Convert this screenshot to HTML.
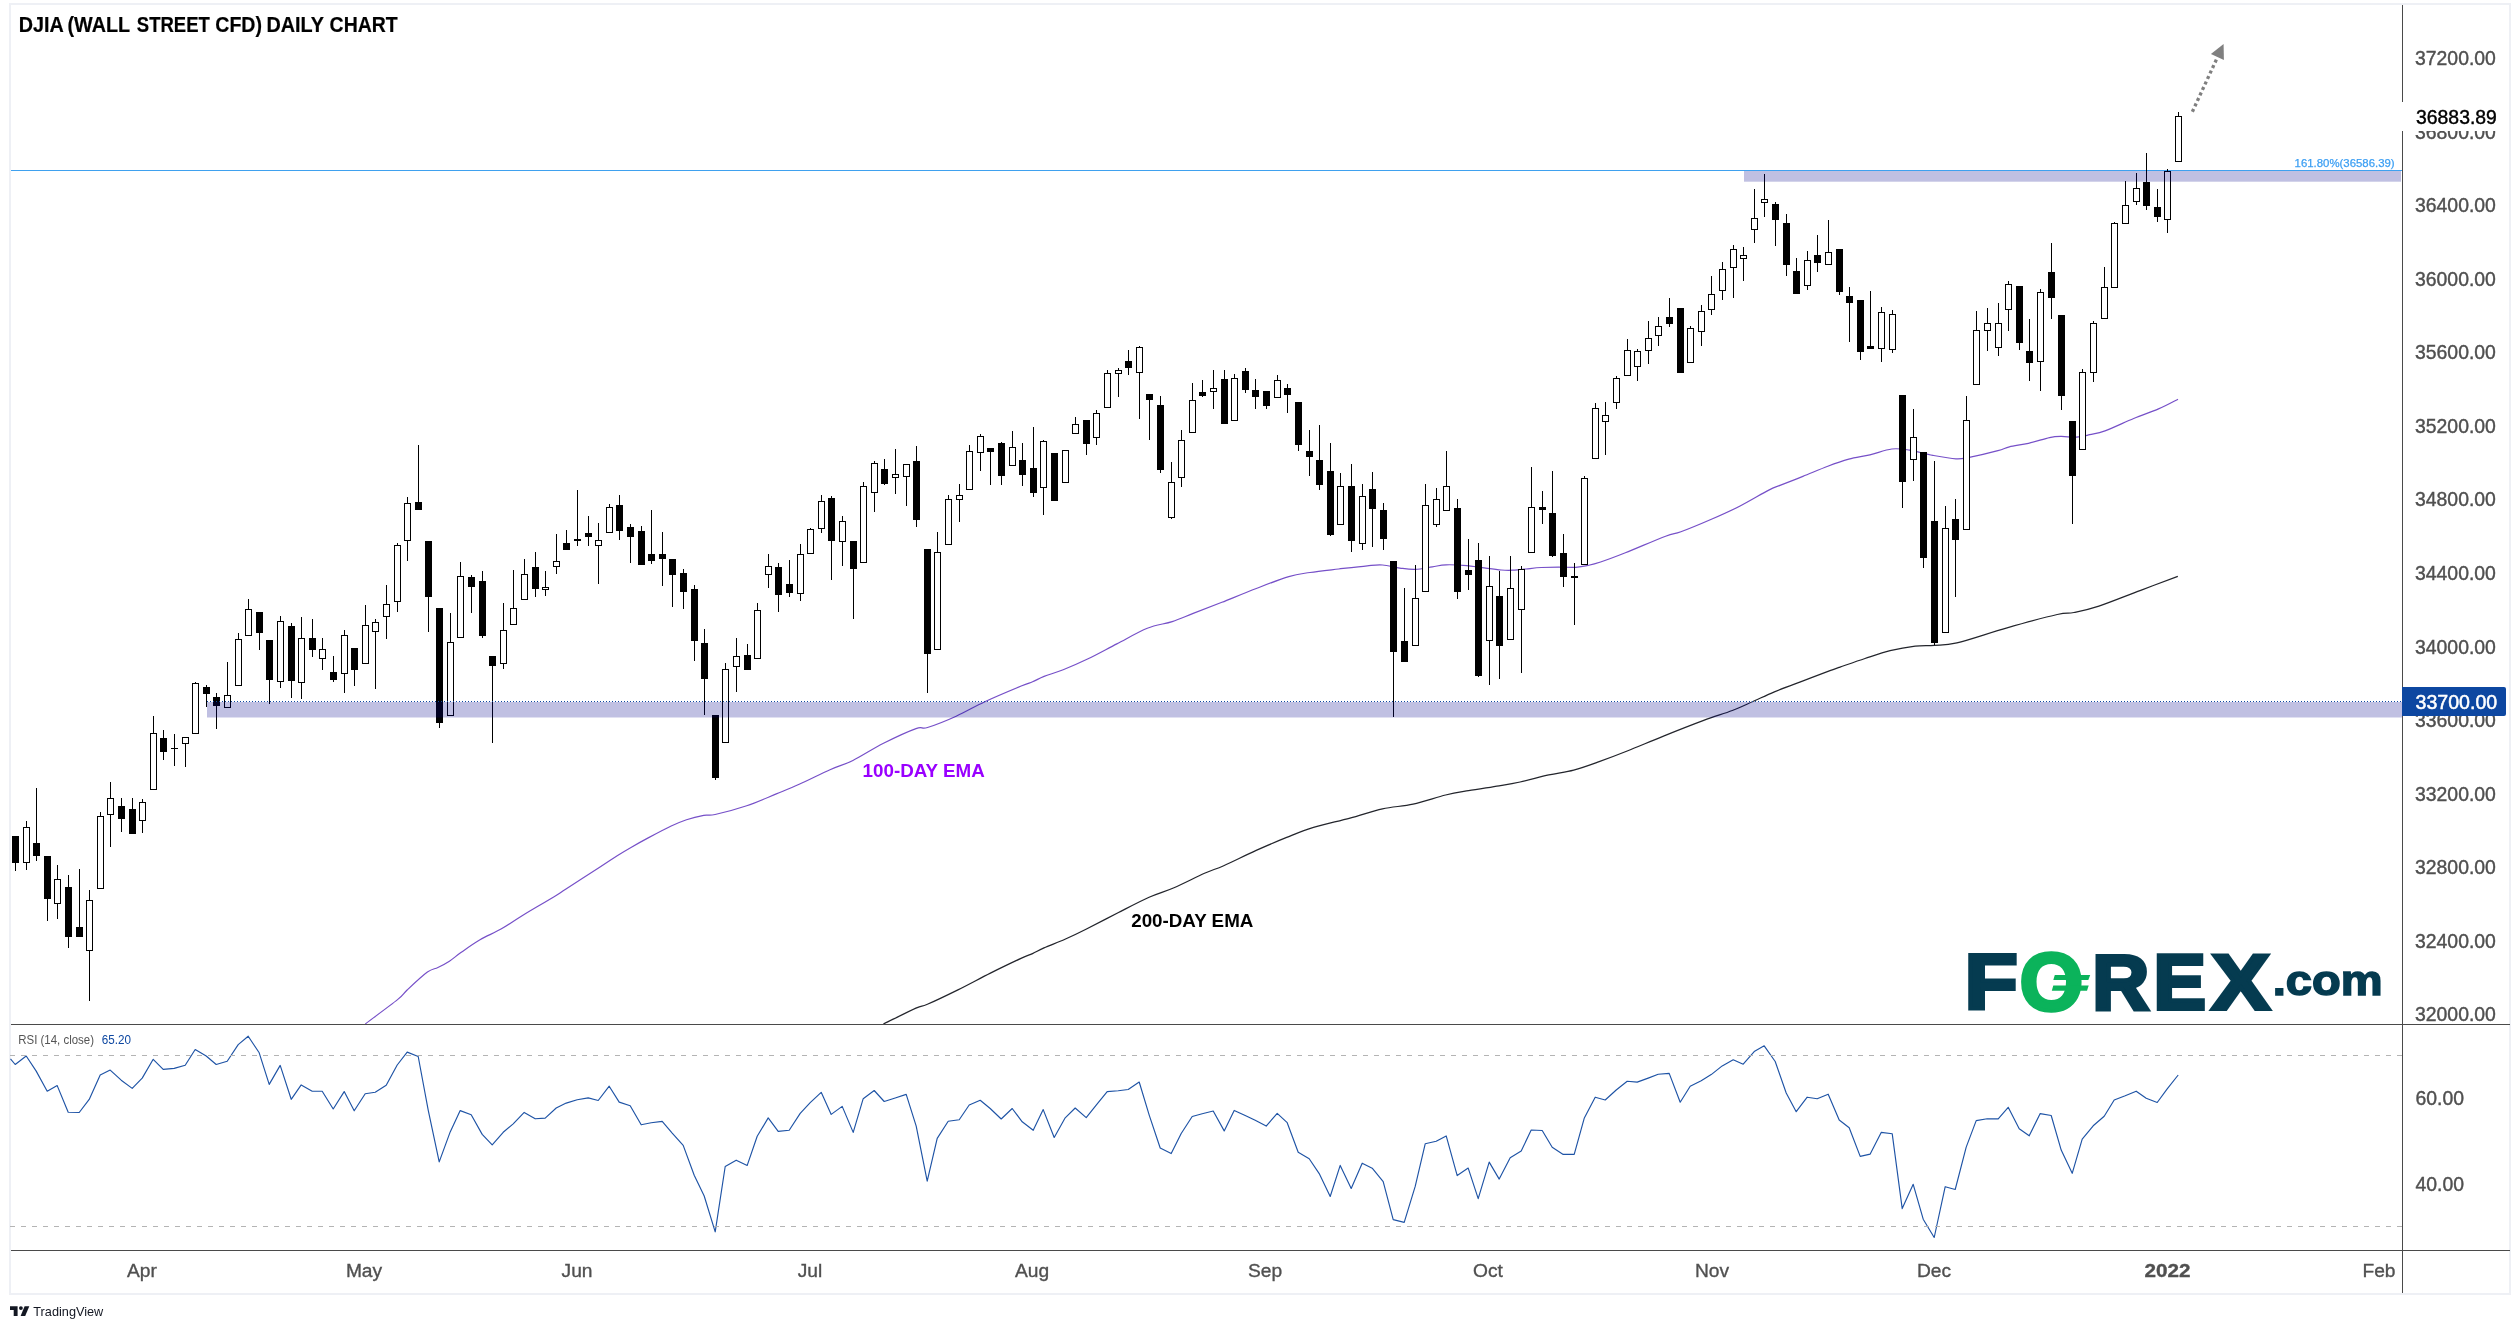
<!DOCTYPE html><html><head><meta charset="utf-8"><title>DJIA Daily Chart</title><style>html,body{margin:0;padding:0;background:#fff;overflow:hidden}svg{display:block;will-change:transform}</style></head><body><svg width="2520" height="1329" viewBox="0 0 2520 1329">
<rect width="2520" height="1329" fill="#fff"/>
<rect x="10" y="4" width="2500" height="1290" fill="none" stroke="#EEF0F5" stroke-width="2"/>
<clipPath id="mainpane"><rect x="11" y="5" width="2391" height="1019"/></clipPath>
<g clip-path="url(#mainpane)">
<path d="M365.3 1023.9C370.7 1019.8 390.8 1005.1 397.8 999.4C404.8 993.7 402.5 994.3 407.4 989.8C412.3 985.2 422.3 975.8 427.4 972.1C432.5 968.4 434.2 969.3 437.9 967.5C441.6 965.7 445.6 963.7 449.4 961.2C453.2 958.7 455.8 956.2 460.9 952.6C466.0 949.0 473.3 943.7 480.0 939.8C486.7 935.9 494.0 933.1 501.0 929.1C508.0 925.1 512.9 921.4 522.1 915.7C531.4 910.1 549.2 899.7 556.5 895.2C563.8 890.7 559.0 893.4 566.0 888.9C573.0 884.4 589.9 873.7 598.5 868.1C607.1 862.5 612.2 859.0 617.6 855.5C623.0 852.0 625.9 850.3 631.0 847.4C636.1 844.5 641.5 841.5 648.2 837.9C654.9 834.3 664.8 829.0 671.2 826.0C677.6 823.0 681.1 821.5 686.5 819.7C691.9 817.9 698.9 816.2 703.7 815.3C708.5 814.4 707.9 816.1 715.1 814.5C722.3 812.9 736.5 809.1 746.7 805.7C756.9 802.3 767.5 797.5 776.3 793.9C785.0 790.3 790.2 788.3 799.2 784.3C808.2 780.3 821.0 773.7 830.0 769.7C839.0 765.7 844.0 764.9 852.9 760.5C861.8 756.1 873.0 748.6 883.5 743.3C894.0 738.0 908.7 731.2 916.0 728.6C923.3 726.0 920.8 729.6 927.5 727.5C934.2 725.4 946.7 720.5 956.2 716.2C965.8 711.9 974.0 706.7 984.8 701.7C995.6 696.7 1013.2 689.3 1021.2 686.0C1029.2 682.7 1028.8 683.4 1032.6 681.8C1036.4 680.2 1039.0 678.4 1044.1 676.4C1049.2 674.4 1055.9 672.6 1063.2 669.7C1070.5 666.8 1079.2 663.1 1088.1 658.8C1097.0 654.5 1106.9 649.0 1116.8 643.9C1126.7 638.8 1138.1 632.0 1147.3 628.3C1156.5 624.6 1164.5 624.1 1172.2 621.6C1179.9 619.1 1184.9 616.6 1193.2 613.4C1201.5 610.2 1211.4 606.4 1221.9 602.3C1232.4 598.1 1245.2 592.8 1256.3 588.5C1267.4 584.2 1279.8 579.3 1288.8 576.6C1297.8 573.9 1301.7 573.8 1310.0 572.5C1318.3 571.2 1329.2 570.1 1338.7 569.0C1348.2 567.9 1360.0 566.5 1367.3 565.8C1374.6 565.1 1377.2 564.6 1382.6 565.0C1388.0 565.4 1394.5 567.4 1399.9 568.1C1405.3 568.8 1409.7 569.6 1415.1 569.4C1420.5 569.2 1427.1 567.7 1432.3 566.9C1437.5 566.1 1440.3 565.0 1446.1 564.8C1451.8 564.6 1460.8 565.1 1466.8 565.6C1472.8 566.1 1476.3 567.0 1482.0 567.7C1487.7 568.4 1496.1 569.6 1501.2 570.0C1506.3 570.4 1508.5 570.4 1512.6 570.2C1516.7 570.0 1521.2 569.5 1526.0 569.0C1530.8 568.5 1535.9 567.8 1541.3 567.5C1546.7 567.2 1552.8 567.1 1558.5 567.1C1564.2 567.1 1570.9 567.5 1575.7 567.3C1580.5 567.0 1583.1 566.5 1587.2 565.6C1591.3 564.7 1594.2 564.1 1600.6 562.0C1607.0 559.9 1614.6 557.1 1625.4 552.8C1636.2 548.5 1656.3 539.7 1665.6 536.2C1674.8 532.7 1673.3 534.6 1680.9 531.8C1688.5 529.0 1701.5 523.6 1711.4 519.3C1721.3 515.0 1730.5 510.9 1740.1 506.0C1749.7 501.1 1762.1 493.5 1768.8 490.1C1775.5 486.7 1774.3 487.7 1780.0 485.4C1785.7 483.1 1794.9 479.6 1802.9 476.4C1810.9 473.2 1820.2 469.2 1827.8 466.3C1835.4 463.4 1841.8 461.1 1848.8 459.2C1855.8 457.3 1862.7 456.5 1869.9 454.8C1877.1 453.1 1885.1 449.8 1891.8 449.0C1898.5 448.2 1903.2 449.1 1910.0 450.2C1916.8 451.3 1925.2 454.0 1932.9 455.4C1940.6 456.8 1949.8 458.5 1955.9 458.8C1962.0 459.1 1962.3 458.7 1969.3 457.3C1976.3 455.9 1991.2 452.4 1997.9 450.6C2004.6 448.9 2004.3 448.0 2009.4 446.8C2014.5 445.6 2021.8 444.8 2028.5 443.3C2035.2 441.8 2044.1 438.8 2049.5 437.6C2054.9 436.5 2056.5 436.5 2061.0 436.4C2065.5 436.3 2071.5 437.5 2076.3 437.2C2081.1 436.9 2084.9 435.8 2089.7 434.7C2094.5 433.6 2097.7 433.6 2105.0 430.9C2112.3 428.2 2124.8 422.2 2133.7 418.5C2142.6 414.8 2151.1 412.1 2158.5 408.9C2165.9 405.7 2174.8 400.8 2178.0 399.2" fill="none" stroke="#7650C8" stroke-width="1.2" stroke-linejoin="round"/>
<path d="M883.4 1024.0C888.8 1021.4 908.6 1011.4 915.9 1008.1C923.2 1004.8 920.4 1007.3 927.4 1004.3C934.4 1001.3 947.4 995.1 957.9 989.9C968.4 984.7 979.9 978.4 990.4 973.1C1000.9 967.9 1014.0 961.6 1021.0 958.4C1028.0 955.1 1028.7 955.4 1032.5 953.6C1036.3 951.9 1038.6 950.3 1044.0 947.9C1049.4 945.5 1058.0 942.4 1065.0 939.3C1072.0 936.2 1077.1 933.8 1086.0 929.3C1094.9 924.8 1108.0 917.9 1118.5 912.5C1129.0 907.1 1139.8 901.3 1149.1 897.2C1158.3 893.1 1164.8 891.7 1174.0 887.7C1183.2 883.7 1196.2 877.0 1204.5 873.3C1212.8 869.6 1215.1 869.5 1223.7 865.7C1232.3 861.9 1245.7 855.1 1256.2 850.4C1266.7 845.7 1277.2 841.2 1286.7 837.4C1296.2 833.6 1303.0 830.6 1313.5 827.4C1324.0 824.2 1338.5 821.2 1350.0 818.1C1361.5 815.0 1372.0 811.1 1382.5 808.8C1393.0 806.5 1402.6 806.5 1413.1 804.2C1423.6 801.9 1436.4 797.3 1445.6 795.0C1454.8 792.7 1459.6 792.1 1468.5 790.6C1477.4 789.1 1490.5 787.2 1499.1 785.8C1507.7 784.4 1511.8 783.8 1520.1 782.0C1528.4 780.2 1539.9 776.9 1548.8 774.9C1557.7 772.9 1565.4 772.3 1573.7 770.1C1582.0 767.9 1589.6 765.1 1598.5 761.9C1607.4 758.7 1616.4 755.3 1627.2 751.0C1638.0 746.7 1650.8 741.2 1663.5 736.1C1676.2 731.0 1692.2 724.7 1703.7 720.4C1715.2 716.1 1724.0 713.7 1732.3 710.5C1740.6 707.3 1746.4 704.4 1753.4 701.3C1760.4 698.2 1766.1 695.2 1774.4 691.8C1782.7 688.4 1793.8 684.4 1803.1 680.9C1812.4 677.4 1823.8 673.0 1830.0 670.7C1836.2 668.4 1834.2 669.1 1840.0 667.1C1845.8 665.1 1856.7 661.2 1865.0 658.5C1873.3 655.8 1881.7 652.8 1890.1 650.7C1898.5 648.7 1907.8 647.1 1915.2 646.2C1922.6 645.3 1927.5 646.0 1934.4 645.4C1941.4 644.8 1944.8 645.8 1956.9 642.9C1969.0 640.0 1990.4 632.5 2007.1 627.8C2023.8 623.1 2046.1 617.0 2057.2 614.5C2068.3 612.0 2066.9 613.9 2073.9 612.5C2080.9 611.1 2087.8 609.8 2098.9 606.1C2110.0 602.4 2127.5 595.2 2140.7 590.3C2153.8 585.3 2171.6 578.7 2177.8 576.4" fill="none" stroke="#23252c" stroke-width="1.25" stroke-linejoin="round"/>
</g>
<rect x="11" y="170" width="2391" height="1" fill="#3FA1EF"/>
<g shape-rendering="crispEdges">
<path d="M15 863h1V871h-1zM26 821h1V827h-1zM26 863h1V870h-1zM36 788h1V843h-1zM36 856h1V861h-1zM47 899h1V921h-1zM57 865h1V879h-1zM57 904h1V919h-1zM68 875h1V887h-1zM68 937h1V948h-1zM79 869h1V927h-1zM89 890h1V900h-1zM89 951h1V1001h-1zM100 812h1V816h-1zM110 782h1V798h-1zM110 815h1V847h-1zM121 798h1V806h-1zM121 819h1V832h-1zM132 798h1V809h-1zM142 799h1V802h-1zM142 821h1V833h-1zM153 716h1V733h-1zM163 730h1V738h-1zM163 752h1V760h-1zM174 734h1V748h-1zM174 749h1V766h-1zM185 744h1V767h-1zM195 682h1V683h-1zM206 685h1V687h-1zM206 694h1V707h-1zM216 693h1V697h-1zM216 706h1V729h-1zM227 662h1V695h-1zM238 633h1V639h-1zM248 599h1V609h-1zM259 633h1V650h-1zM269 680h1V704h-1zM280 616h1V621h-1zM280 682h1V688h-1zM291 623h1V626h-1zM291 681h1V698h-1zM301 617h1V638h-1zM301 683h1V699h-1zM312 619h1V638h-1zM312 650h1V657h-1zM322 638h1V649h-1zM322 659h1V670h-1zM333 656h1V672h-1zM333 680h1V682h-1zM344 630h1V635h-1zM344 674h1V693h-1zM354 670h1V686h-1zM365 605h1V625h-1zM375 619h1V622h-1zM375 632h1V689h-1zM386 585h1V604h-1zM386 617h1V639h-1zM397 543h1V545h-1zM397 602h1V612h-1zM407 497h1V503h-1zM407 541h1V561h-1zM418 445h1V502h-1zM428 597h1V632h-1zM439 723h1V728h-1zM450 613h1V642h-1zM460 562h1V576h-1zM471 575h1V577h-1zM471 587h1V613h-1zM482 571h1V581h-1zM482 636h1V638h-1zM492 666h1V743h-1zM503 603h1V630h-1zM503 664h1V669h-1zM513 570h1V608h-1zM524 559h1V574h-1zM535 552h1V567h-1zM535 589h1V597h-1zM545 571h1V587h-1zM545 590h1V596h-1zM556 534h1V561h-1zM556 567h1V574h-1zM566 530h1V543h-1zM577 490h1V539h-1zM577 541h1V546h-1zM588 516h1V533h-1zM588 537h1V546h-1zM598 523h1V540h-1zM598 546h1V584h-1zM609 504h1V507h-1zM619 495h1V505h-1zM619 531h1V540h-1zM630 524h1V527h-1zM630 537h1V563h-1zM641 526h1V531h-1zM651 510h1V554h-1zM651 561h1V564h-1zM662 532h1V554h-1zM662 559h1V586h-1zM672 575h1V607h-1zM683 569h1V573h-1zM683 592h1V609h-1zM694 585h1V589h-1zM694 641h1V661h-1zM704 629h1V643h-1zM704 679h1V715h-1zM715 778h1V780h-1zM725 663h1V669h-1zM736 638h1V656h-1zM736 667h1V692h-1zM747 644h1V655h-1zM757 603h1V610h-1zM768 554h1V566h-1zM768 575h1V588h-1zM778 563h1V567h-1zM778 595h1V612h-1zM789 560h1V584h-1zM789 593h1V597h-1zM800 544h1V554h-1zM800 594h1V601h-1zM810 528h1V529h-1zM821 495h1V501h-1zM821 529h1V533h-1zM831 496h1V498h-1zM831 541h1V580h-1zM842 516h1V521h-1zM842 542h1V566h-1zM853 569h1V619h-1zM863 482h1V486h-1zM874 461h1V463h-1zM874 493h1V512h-1zM884 459h1V469h-1zM884 484h1V485h-1zM895 449h1V474h-1zM895 478h1V494h-1zM906 477h1V506h-1zM916 446h1V461h-1zM916 520h1V527h-1zM927 654h1V693h-1zM937 532h1V552h-1zM948 495h1V499h-1zM959 484h1V495h-1zM959 500h1V522h-1zM969 445h1V451h-1zM980 434h1V436h-1zM980 453h1V471h-1zM990 452h1V485h-1zM1001 442h1V443h-1zM1001 476h1V485h-1zM1012 431h1V447h-1zM1022 443h1V460h-1zM1022 475h1V486h-1zM1033 427h1V468h-1zM1033 493h1V497h-1zM1043 440h1V441h-1zM1043 488h1V515h-1zM1075 417h1V424h-1zM1086 444h1V455h-1zM1096 410h1V413h-1zM1096 438h1V445h-1zM1107 370h1V373h-1zM1118 368h1V370h-1zM1118 374h1V397h-1zM1128 350h1V361h-1zM1128 368h1V375h-1zM1139 346h1V347h-1zM1139 373h1V419h-1zM1149 400h1V440h-1zM1160 396h1V405h-1zM1160 470h1V473h-1zM1171 462h1V482h-1zM1171 518h1V519h-1zM1181 430h1V440h-1zM1181 478h1V487h-1zM1192 383h1V400h-1zM1202 380h1V392h-1zM1202 396h1V397h-1zM1213 370h1V388h-1zM1213 392h1V409h-1zM1224 370h1V379h-1zM1234 374h1V378h-1zM1245 368h1V371h-1zM1245 390h1V393h-1zM1255 379h1V390h-1zM1255 397h1V409h-1zM1266 406h1V409h-1zM1277 375h1V380h-1zM1287 384h1V388h-1zM1287 395h1V413h-1zM1298 445h1V451h-1zM1309 430h1V451h-1zM1309 457h1V476h-1zM1319 425h1V460h-1zM1319 485h1V490h-1zM1330 443h1V471h-1zM1330 535h1V536h-1zM1340 473h1V486h-1zM1351 464h1V486h-1zM1351 541h1V552h-1zM1362 484h1V496h-1zM1362 544h1V550h-1zM1372 472h1V489h-1zM1372 509h1V547h-1zM1383 503h1V510h-1zM1383 539h1V550h-1zM1393 652h1V717h-1zM1404 588h1V641h-1zM1415 565h1V598h-1zM1425 484h1V505h-1zM1436 488h1V499h-1zM1436 525h1V527h-1zM1446 451h1V486h-1zM1457 499h1V508h-1zM1457 592h1V599h-1zM1468 539h1V570h-1zM1468 575h1V590h-1zM1478 543h1V560h-1zM1478 676h1V677h-1zM1489 556h1V586h-1zM1489 641h1V685h-1zM1499 571h1V596h-1zM1499 646h1V679h-1zM1510 556h1V588h-1zM1521 566h1V569h-1zM1521 610h1V673h-1zM1531 467h1V507h-1zM1542 491h1V507h-1zM1542 510h1V524h-1zM1552 471h1V513h-1zM1552 556h1V557h-1zM1563 534h1V553h-1zM1563 577h1V587h-1zM1574 563h1V576h-1zM1574 578h1V625h-1zM1584 476h1V478h-1zM1595 403h1V408h-1zM1605 402h1V415h-1zM1605 422h1V455h-1zM1616 376h1V378h-1zM1616 403h1V409h-1zM1627 339h1V350h-1zM1637 349h1V351h-1zM1637 367h1V381h-1zM1648 321h1V338h-1zM1648 351h1V364h-1zM1658 317h1V326h-1zM1658 336h1V346h-1zM1669 298h1V317h-1zM1669 324h1V327h-1zM1690 326h1V328h-1zM1701 305h1V311h-1zM1701 332h1V346h-1zM1711 276h1V294h-1zM1711 310h1V315h-1zM1722 262h1V269h-1zM1722 291h1V300h-1zM1733 245h1V249h-1zM1733 268h1V298h-1zM1743 247h1V255h-1zM1743 259h1V281h-1zM1754 189h1V218h-1zM1754 230h1V243h-1zM1764 174h1V199h-1zM1764 203h1V217h-1zM1775 202h1V204h-1zM1775 220h1V246h-1zM1786 214h1V223h-1zM1786 265h1V276h-1zM1796 258h1V271h-1zM1807 251h1V260h-1zM1807 286h1V290h-1zM1817 235h1V255h-1zM1817 263h1V272h-1zM1828 220h1V252h-1zM1839 292h1V295h-1zM1849 287h1V296h-1zM1849 303h1V342h-1zM1860 352h1V360h-1zM1870 291h1V346h-1zM1881 307h1V312h-1zM1881 349h1V362h-1zM1892 310h1V314h-1zM1892 350h1V353h-1zM1902 482h1V508h-1zM1913 409h1V437h-1zM1913 460h1V481h-1zM1923 558h1V568h-1zM1934 461h1V521h-1zM1934 643h1V645h-1zM1945 506h1V528h-1zM1955 499h1V519h-1zM1955 540h1V597h-1zM1966 396h1V420h-1zM1976 311h1V330h-1zM1987 308h1V323h-1zM1987 331h1V351h-1zM1998 303h1V323h-1zM1998 348h1V356h-1zM2008 281h1V284h-1zM2008 310h1V331h-1zM2019 343h1V350h-1zM2029 319h1V351h-1zM2029 363h1V381h-1zM2040 289h1V292h-1zM2040 362h1V391h-1zM2051 243h1V272h-1zM2051 298h1V319h-1zM2061 396h1V410h-1zM2072 476h1V524h-1zM2082 369h1V372h-1zM2093 321h1V323h-1zM2093 373h1V382h-1zM2104 267h1V287h-1zM2114 222h1V223h-1zM2125 181h1V205h-1zM2136 173h1V188h-1zM2136 202h1V205h-1zM2146 153h1V182h-1zM2146 206h1V210h-1zM2157 189h1V207h-1zM2157 217h1V222h-1zM2167 169h1V171h-1zM2167 220h1V233h-1zM2178 112h1V116h-1z" fill="#000"/>
<path d="M12 836h7V863h-7zM33 843h7V856h-7zM44 856h7V899h-7zM65 887h7V937h-7zM76 927h7V937h-7zM118 806h7V819h-7zM129 809h7V834h-7zM160 738h7V752h-7zM171 748h7V749h-7zM203 687h7V694h-7zM213 697h7V706h-7zM256 612h7V633h-7zM266 640h7V680h-7zM288 626h7V681h-7zM309 638h7V650h-7zM330 672h7V680h-7zM351 648h7V670h-7zM415 502h7V510h-7zM425 541h7V597h-7zM436 608h7V723h-7zM468 577h7V587h-7zM479 581h7V636h-7zM489 656h7V666h-7zM532 567h7V589h-7zM563 543h7V550h-7zM574 539h7V541h-7zM585 533h7V537h-7zM616 505h7V531h-7zM627 527h7V537h-7zM638 531h7V565h-7zM648 554h7V561h-7zM659 554h7V559h-7zM669 559h7V575h-7zM680 573h7V592h-7zM691 589h7V641h-7zM701 643h7V679h-7zM712 715h7V778h-7zM744 655h7V670h-7zM775 567h7V595h-7zM786 584h7V593h-7zM828 498h7V541h-7zM850 541h7V569h-7zM881 469h7V484h-7zM913 461h7V520h-7zM924 549h7V654h-7zM987 448h7V452h-7zM998 443h7V476h-7zM1019 460h7V475h-7zM1030 468h7V493h-7zM1051 453h7V501h-7zM1083 420h7V444h-7zM1125 361h7V368h-7zM1146 394h7V400h-7zM1157 405h7V470h-7zM1199 392h7V396h-7zM1221 379h7V424h-7zM1242 371h7V390h-7zM1252 390h7V397h-7zM1263 391h7V406h-7zM1284 388h7V395h-7zM1295 402h7V445h-7zM1306 451h7V457h-7zM1316 460h7V485h-7zM1327 471h7V535h-7zM1348 486h7V541h-7zM1369 489h7V509h-7zM1380 510h7V539h-7zM1390 561h7V652h-7zM1401 641h7V662h-7zM1454 508h7V592h-7zM1465 570h7V575h-7zM1475 560h7V676h-7zM1496 596h7V646h-7zM1539 507h7V510h-7zM1549 513h7V556h-7zM1560 553h7V577h-7zM1571 576h7V578h-7zM1666 317h7V324h-7zM1677 308h7V373h-7zM1772 204h7V220h-7zM1783 223h7V265h-7zM1793 271h7V294h-7zM1814 255h7V263h-7zM1836 249h7V292h-7zM1846 296h7V303h-7zM1857 300h7V352h-7zM1867 346h7V349h-7zM1899 395h7V482h-7zM1920 452h7V558h-7zM1931 521h7V643h-7zM1952 519h7V540h-7zM2016 286h7V343h-7zM2026 351h7V363h-7zM2048 272h7V298h-7zM2058 315h7V396h-7zM2069 421h7V476h-7zM2143 182h7V206h-7zM2154 207h7V217h-7z" fill="#000"/>
<path d="M23 827h7V863h-7zM54 879h7V904h-7zM86 900h7V951h-7zM97 816h7V889h-7zM107 798h7V815h-7zM139 802h7V821h-7zM150 733h7V790h-7zM182 737h7V744h-7zM192 683h7V734h-7zM224 695h7V708h-7zM235 639h7V686h-7zM245 609h7V636h-7zM277 621h7V682h-7zM298 638h7V683h-7zM319 649h7V659h-7zM341 635h7V674h-7zM362 625h7V664h-7zM372 622h7V632h-7zM383 604h7V617h-7zM394 545h7V602h-7zM404 503h7V541h-7zM447 642h7V716h-7zM457 576h7V638h-7zM500 630h7V664h-7zM510 608h7V625h-7zM521 574h7V600h-7zM542 587h7V590h-7zM553 561h7V567h-7zM595 540h7V546h-7zM606 507h7V533h-7zM722 669h7V743h-7zM733 656h7V667h-7zM754 610h7V659h-7zM765 566h7V575h-7zM797 554h7V594h-7zM807 529h7V554h-7zM818 501h7V529h-7zM839 521h7V542h-7zM860 486h7V563h-7zM871 463h7V493h-7zM892 474h7V478h-7zM903 464h7V477h-7zM934 552h7V650h-7zM945 499h7V545h-7zM956 495h7V500h-7zM966 451h7V490h-7zM977 436h7V453h-7zM1009 447h7V466h-7zM1040 441h7V488h-7zM1062 450h7V483h-7zM1072 424h7V434h-7zM1093 413h7V438h-7zM1104 373h7V408h-7zM1115 370h7V374h-7zM1136 347h7V373h-7zM1168 482h7V518h-7zM1178 440h7V478h-7zM1189 400h7V433h-7zM1210 388h7V392h-7zM1231 378h7V421h-7zM1274 380h7V398h-7zM1337 486h7V525h-7zM1359 496h7V544h-7zM1412 598h7V646h-7zM1422 505h7V592h-7zM1433 499h7V525h-7zM1443 486h7V511h-7zM1486 586h7V641h-7zM1507 588h7V640h-7zM1518 569h7V610h-7zM1528 507h7V553h-7zM1581 478h7V565h-7zM1592 408h7V459h-7zM1602 415h7V422h-7zM1613 378h7V403h-7zM1624 350h7V376h-7zM1634 351h7V367h-7zM1645 338h7V351h-7zM1655 326h7V336h-7zM1687 328h7V363h-7zM1698 311h7V332h-7zM1708 294h7V310h-7zM1719 269h7V291h-7zM1730 249h7V268h-7zM1740 255h7V259h-7zM1751 218h7V230h-7zM1761 199h7V203h-7zM1804 260h7V286h-7zM1825 252h7V265h-7zM1878 312h7V349h-7zM1889 314h7V350h-7zM1910 437h7V460h-7zM1942 528h7V633h-7zM1963 420h7V530h-7zM1973 330h7V385h-7zM1984 323h7V331h-7zM1995 323h7V348h-7zM2005 284h7V310h-7zM2037 292h7V362h-7zM2079 372h7V450h-7zM2090 323h7V373h-7zM2101 287h7V319h-7zM2111 223h7V288h-7zM2122 205h7V224h-7zM2133 188h7V202h-7zM2164 171h7V220h-7zM2175 116h7V162h-7z" fill="#000"/>
<path d="M24 828h5V862h-5zM55 880h5V903h-5zM87 901h5V950h-5zM98 817h5V888h-5zM108 799h5V814h-5zM140 803h5V820h-5zM151 734h5V789h-5zM183 738h5V743h-5zM193 684h5V733h-5zM225 696h5V707h-5zM236 640h5V685h-5zM246 610h5V635h-5zM278 622h5V681h-5zM299 639h5V682h-5zM320 650h5V658h-5zM342 636h5V673h-5zM363 626h5V663h-5zM373 623h5V631h-5zM384 605h5V616h-5zM395 546h5V601h-5zM405 504h5V540h-5zM448 643h5V715h-5zM458 577h5V637h-5zM501 631h5V663h-5zM511 609h5V624h-5zM522 575h5V599h-5zM543 588h5V589h-5zM554 562h5V566h-5zM596 541h5V545h-5zM607 508h5V532h-5zM723 670h5V742h-5zM734 657h5V666h-5zM755 611h5V658h-5zM766 567h5V574h-5zM798 555h5V593h-5zM808 530h5V553h-5zM819 502h5V528h-5zM840 522h5V541h-5zM861 487h5V562h-5zM872 464h5V492h-5zM893 475h5V477h-5zM904 465h5V476h-5zM935 553h5V649h-5zM946 500h5V544h-5zM957 496h5V499h-5zM967 452h5V489h-5zM978 437h5V452h-5zM1010 448h5V465h-5zM1041 442h5V487h-5zM1063 451h5V482h-5zM1073 425h5V433h-5zM1094 414h5V437h-5zM1105 374h5V407h-5zM1116 371h5V373h-5zM1137 348h5V372h-5zM1169 483h5V517h-5zM1179 441h5V477h-5zM1190 401h5V432h-5zM1211 389h5V391h-5zM1232 379h5V420h-5zM1275 381h5V397h-5zM1338 487h5V524h-5zM1360 497h5V543h-5zM1413 599h5V645h-5zM1423 506h5V591h-5zM1434 500h5V524h-5zM1444 487h5V510h-5zM1487 587h5V640h-5zM1508 589h5V639h-5zM1519 570h5V609h-5zM1529 508h5V552h-5zM1582 479h5V564h-5zM1593 409h5V458h-5zM1603 416h5V421h-5zM1614 379h5V402h-5zM1625 351h5V375h-5zM1635 352h5V366h-5zM1646 339h5V350h-5zM1656 327h5V335h-5zM1688 329h5V362h-5zM1699 312h5V331h-5zM1709 295h5V309h-5zM1720 270h5V290h-5zM1731 250h5V267h-5zM1741 256h5V258h-5zM1752 219h5V229h-5zM1762 200h5V202h-5zM1805 261h5V285h-5zM1826 253h5V264h-5zM1879 313h5V348h-5zM1890 315h5V349h-5zM1911 438h5V459h-5zM1943 529h5V632h-5zM1964 421h5V529h-5zM1974 331h5V384h-5zM1985 324h5V330h-5zM1996 324h5V347h-5zM2006 285h5V309h-5zM2038 293h5V361h-5zM2080 373h5V449h-5zM2091 324h5V372h-5zM2102 288h5V318h-5zM2112 224h5V287h-5zM2123 206h5V223h-5zM2134 189h5V201h-5zM2165 172h5V219h-5zM2176 117h5V161h-5z" fill="#fff"/>
</g>
<rect x="207" y="702" width="2195" height="15.5" fill="rgb(0,0,136)" fill-opacity="0.247"/>
<rect x="1744" y="171" width="657" height="10.7" fill="rgb(0,0,136)" fill-opacity="0.247"/>
<path d="M207 701.5H2402" stroke="#0D47A1" stroke-width="1" stroke-dasharray="1 2" fill="none"/>
<text x="2294.6" y="167" textLength="100" lengthAdjust="spacingAndGlyphs" style="font-family:'Liberation Sans',sans-serif;font-size:11.4px" fill="#3C9FF3" stroke="#3C9FF3" stroke-width="0.25">161.80%(36586.39)</text>
<path d="M2192.35 111.77L2216.35 59.66" stroke="#7f7f7f" stroke-width="3.3" stroke-dasharray="3.1 2.93" fill="none"/>
<path d="M2223.6 43.9L2210.9 53.9L2223.9 60z" fill="#808080"/>
<text x="862.5" y="777" textLength="122.3" lengthAdjust="spacingAndGlyphs" style="font-family:'Liberation Sans',sans-serif;font-size:18.6px;font-weight:bold" fill="#9900FF">100-DAY EMA</text>
<text x="1131.2" y="927" textLength="122.2" lengthAdjust="spacingAndGlyphs" style="font-family:'Liberation Sans',sans-serif;font-size:18.6px;font-weight:bold" fill="#000">200-DAY EMA</text>
<text y="32" style="font-family:'Liberation Sans',sans-serif;font-size:21.2px;font-weight:bold" fill="#000" stroke="#000" stroke-width="0.2"><tspan x="18.8" textLength="44.3" lengthAdjust="spacingAndGlyphs">DJIA</tspan> <tspan x="67.5" textLength="62.2" lengthAdjust="spacingAndGlyphs">(WALL</tspan> <tspan x="136.8" textLength="73.0" lengthAdjust="spacingAndGlyphs">STREET</tspan> <tspan x="215.3" textLength="46.7" lengthAdjust="spacingAndGlyphs">CFD)</tspan> <tspan x="266.4" textLength="57.3" lengthAdjust="spacingAndGlyphs">DAILY</tspan> <tspan x="329.6" textLength="68.1" lengthAdjust="spacingAndGlyphs">CHART</tspan></text>
<g shape-rendering="crispEdges" fill="#4a4a4a">
<rect x="11" y="1024" width="2499" height="1"/>
<rect x="11" y="1250" width="2499" height="1"/>
<rect x="2402" y="5" width="1" height="1288"/>
</g>
<text x="2415" y="65.2" style="font-family:'Liberation Sans',sans-serif;font-size:19.4px" fill="#505050" stroke="#505050" stroke-width="0.4">37200.00</text>
<text x="2415" y="138.7" style="font-family:'Liberation Sans',sans-serif;font-size:19.4px" fill="#505050" stroke="#505050" stroke-width="0.4">36800.00</text>
<text x="2415" y="212.3" style="font-family:'Liberation Sans',sans-serif;font-size:19.4px" fill="#505050" stroke="#505050" stroke-width="0.4">36400.00</text>
<text x="2415" y="285.8" style="font-family:'Liberation Sans',sans-serif;font-size:19.4px" fill="#505050" stroke="#505050" stroke-width="0.4">36000.00</text>
<text x="2415" y="359.3" style="font-family:'Liberation Sans',sans-serif;font-size:19.4px" fill="#505050" stroke="#505050" stroke-width="0.4">35600.00</text>
<text x="2415" y="432.9" style="font-family:'Liberation Sans',sans-serif;font-size:19.4px" fill="#505050" stroke="#505050" stroke-width="0.4">35200.00</text>
<text x="2415" y="506.4" style="font-family:'Liberation Sans',sans-serif;font-size:19.4px" fill="#505050" stroke="#505050" stroke-width="0.4">34800.00</text>
<text x="2415" y="579.9" style="font-family:'Liberation Sans',sans-serif;font-size:19.4px" fill="#505050" stroke="#505050" stroke-width="0.4">34400.00</text>
<text x="2415" y="653.5" style="font-family:'Liberation Sans',sans-serif;font-size:19.4px" fill="#505050" stroke="#505050" stroke-width="0.4">34000.00</text>
<text x="2415" y="727.0" style="font-family:'Liberation Sans',sans-serif;font-size:19.4px" fill="#505050" stroke="#505050" stroke-width="0.4">33600.00</text>
<text x="2415" y="800.5" style="font-family:'Liberation Sans',sans-serif;font-size:19.4px" fill="#505050" stroke="#505050" stroke-width="0.4">33200.00</text>
<text x="2415" y="874.1" style="font-family:'Liberation Sans',sans-serif;font-size:19.4px" fill="#505050" stroke="#505050" stroke-width="0.4">32800.00</text>
<text x="2415" y="947.6" style="font-family:'Liberation Sans',sans-serif;font-size:19.4px" fill="#505050" stroke="#505050" stroke-width="0.4">32400.00</text>
<text x="2415" y="1021.1" style="font-family:'Liberation Sans',sans-serif;font-size:19.4px" fill="#505050" stroke="#505050" stroke-width="0.4">32000.00</text>
<text x="2415.5" y="1105.0" style="font-family:'Liberation Sans',sans-serif;font-size:19.4px" fill="#505050" stroke="#505050" stroke-width="0.4">60.00</text>
<text x="2415.5" y="1190.5" style="font-family:'Liberation Sans',sans-serif;font-size:19.4px" fill="#505050" stroke="#505050" stroke-width="0.4">40.00</text>
<rect x="2402" y="102" width="105" height="29" fill="#fff"/>
<text x="2416" y="124" style="font-family:'Liberation Sans',sans-serif;font-size:19.4px" fill="#000" stroke="#000" stroke-width="0.4">36883.89</text>
<path d="M2402 687H2504a2 2 0 0 1 2 2V714a2 2 0 0 1 -2 2H2402z" fill="#0D47A1"/>
<text x="2415.5" y="709.2" style="font-family:'Liberation Sans',sans-serif;font-size:19.6px" fill="#fff" stroke="#fff" stroke-width="0.5">33700.00</text>
<path d="M10.5 1058.9 L15.2 1064.5 L26.2 1056.0 L36.2 1071.1 L47.2 1091.2 L57.2 1085.6 L68.2 1112.2 L79.2 1112.5 L89.2 1099.4 L100.2 1075.0 L110.2 1070.1 L121.2 1080.2 L132.2 1088.4 L142.2 1078.1 L153.2 1059.3 L163.2 1069.4 L174.2 1068.4 L185.2 1065.2 L195.2 1049.5 L206.2 1056.0 L216.2 1064.5 L227.2 1061.2 L238.2 1044.6 L248.2 1036.2 L259.2 1052.8 L269.2 1084.4 L280.2 1065.4 L291.2 1099.3 L301.2 1084.9 L312.2 1091.2 L322.2 1091.2 L333.2 1109.0 L344.2 1091.6 L354.2 1110.8 L365.2 1093.8 L375.2 1092.3 L386.2 1085.3 L397.2 1065.0 L407.2 1052.1 L418.2 1056.5 L428.2 1110.1 L439.2 1161.9 L450.2 1131.9 L460.2 1110.6 L471.2 1114.8 L482.2 1134.4 L492.2 1144.8 L503.2 1132.3 L513.2 1123.9 L524.2 1112.4 L535.2 1118.8 L545.2 1118.1 L556.2 1108.0 L566.2 1103.1 L577.2 1099.8 L588.2 1097.9 L598.2 1100.5 L609.2 1086.2 L619.2 1102.1 L630.2 1105.7 L641.2 1124.8 L651.2 1122.8 L662.2 1121.4 L672.2 1133.1 L683.2 1145.4 L694.2 1175.2 L704.2 1196.0 L715.2 1231.8 L725.2 1166.5 L736.2 1160.2 L747.2 1165.4 L757.2 1136.3 L768.2 1117.9 L778.2 1131.4 L789.2 1130.3 L800.2 1113.4 L810.2 1102.6 L821.2 1092.3 L831.2 1114.4 L842.2 1106.4 L853.2 1132.4 L863.2 1098.7 L874.2 1090.5 L884.2 1101.5 L895.2 1098.0 L906.2 1094.4 L916.2 1126.1 L927.2 1181.2 L937.2 1138.4 L948.2 1121.3 L959.2 1119.7 L969.2 1105.0 L980.2 1100.3 L990.2 1108.5 L1001.2 1119.0 L1012.2 1108.5 L1022.2 1121.8 L1033.2 1130.3 L1043.2 1109.6 L1054.2 1137.5 L1065.2 1117.8 L1075.2 1108.0 L1086.2 1117.6 L1096.2 1105.2 L1107.2 1091.6 L1118.2 1090.7 L1128.2 1089.5 L1139.2 1082.0 L1149.2 1115.1 L1160.2 1148.0 L1171.2 1153.6 L1181.2 1133.5 L1192.2 1116.5 L1202.2 1113.8 L1213.2 1111.0 L1224.2 1130.9 L1234.2 1110.4 L1245.2 1115.5 L1255.2 1120.2 L1266.2 1126.1 L1277.2 1113.4 L1287.2 1122.7 L1298.2 1152.3 L1309.2 1158.8 L1319.2 1173.6 L1330.2 1196.5 L1340.2 1165.4 L1351.2 1188.5 L1362.2 1163.2 L1372.2 1168.2 L1383.2 1181.7 L1393.2 1219.6 L1404.2 1222.4 L1415.2 1186.4 L1425.2 1143.8 L1436.2 1141.3 L1446.2 1135.9 L1457.2 1175.6 L1468.2 1168.1 L1478.2 1198.6 L1489.2 1162.1 L1499.2 1179.1 L1510.2 1157.8 L1521.2 1151.1 L1531.2 1130.0 L1542.2 1130.5 L1552.2 1147.3 L1563.2 1154.4 L1574.2 1154.4 L1584.2 1118.3 L1595.2 1097.2 L1605.2 1100.0 L1616.2 1090.0 L1627.2 1081.3 L1637.2 1082.1 L1648.2 1078.1 L1658.2 1074.3 L1669.2 1073.4 L1680.2 1102.2 L1690.2 1086.3 L1701.2 1080.7 L1711.2 1074.6 L1722.2 1065.9 L1733.2 1059.8 L1743.2 1064.2 L1754.2 1051.6 L1764.2 1045.8 L1775.2 1061.5 L1786.2 1093.0 L1796.2 1111.7 L1807.2 1097.2 L1817.2 1098.7 L1828.2 1094.2 L1839.2 1120.0 L1849.2 1127.7 L1860.2 1156.4 L1870.2 1154.1 L1881.2 1132.4 L1892.2 1133.7 L1902.2 1208.6 L1913.2 1184.3 L1923.2 1219.2 L1934.2 1237.5 L1945.2 1186.7 L1955.2 1189.5 L1966.2 1147.1 L1976.2 1120.6 L1987.2 1118.8 L1998.2 1118.8 L2008.2 1107.3 L2019.2 1128.8 L2029.2 1135.8 L2040.2 1113.6 L2051.2 1115.5 L2061.2 1150.1 L2072.2 1173.3 L2082.2 1139.2 L2093.2 1125.8 L2104.2 1116.2 L2114.2 1100.0 L2125.2 1095.8 L2136.2 1091.2 L2146.2 1098.2 L2157.2 1102.5 L2167.2 1088.8 L2178.2 1075.0" fill="none" stroke="#1E53A5" stroke-width="1.15" stroke-linejoin="round"/>
<path d="M10 1055.5H2402M10 1226.5H2402" stroke="#b4b4b4" stroke-width="1" stroke-dasharray="5 6" fill="none"/>
<text x="18.3" y="1043.9" textLength="75.7" lengthAdjust="spacingAndGlyphs" style="font-family:'Liberation Sans',sans-serif;font-size:12.6px" fill="#555">RSI (14, close)</text>
<text x="101.8" y="1043.9" textLength="29.2" lengthAdjust="spacingAndGlyphs" style="font-family:'Liberation Sans',sans-serif;font-size:12.6px" fill="#0D47A1">65.20</text>
<text x="142" y="1277" text-anchor="middle" style="font-family:'Liberation Sans',sans-serif;font-size:19.2px" fill="#505050" stroke="#505050" stroke-width="0.35">Apr</text>
<text x="364" y="1277" text-anchor="middle" style="font-family:'Liberation Sans',sans-serif;font-size:19.2px" fill="#505050" stroke="#505050" stroke-width="0.35">May</text>
<text x="577" y="1277" text-anchor="middle" style="font-family:'Liberation Sans',sans-serif;font-size:19.2px" fill="#505050" stroke="#505050" stroke-width="0.35">Jun</text>
<text x="810" y="1277" text-anchor="middle" style="font-family:'Liberation Sans',sans-serif;font-size:19.2px" fill="#505050" stroke="#505050" stroke-width="0.35">Jul</text>
<text x="1032" y="1277" text-anchor="middle" style="font-family:'Liberation Sans',sans-serif;font-size:19.2px" fill="#505050" stroke="#505050" stroke-width="0.35">Aug</text>
<text x="1265" y="1277" text-anchor="middle" style="font-family:'Liberation Sans',sans-serif;font-size:19.2px" fill="#505050" stroke="#505050" stroke-width="0.35">Sep</text>
<text x="1488" y="1277" text-anchor="middle" style="font-family:'Liberation Sans',sans-serif;font-size:19.2px" fill="#505050" stroke="#505050" stroke-width="0.35">Oct</text>
<text x="1712" y="1277" text-anchor="middle" style="font-family:'Liberation Sans',sans-serif;font-size:19.2px" fill="#505050" stroke="#505050" stroke-width="0.35">Nov</text>
<text x="1934" y="1277" text-anchor="middle" style="font-family:'Liberation Sans',sans-serif;font-size:19.2px" fill="#505050" stroke="#505050" stroke-width="0.35">Dec</text>
<text x="2167.5" y="1277" text-anchor="middle" textLength="46" lengthAdjust="spacingAndGlyphs" style="font-family:'Liberation Sans',sans-serif;font-size:19.2px;font-weight:bold" fill="#505050" stroke="#505050" stroke-width="0.35">2022</text>
<text x="2379" y="1277" text-anchor="middle" style="font-family:'Liberation Sans',sans-serif;font-size:19.2px" fill="#505050" stroke="#505050" stroke-width="0.35">Feb</text>
<text transform="matrix(0.8720 0 0 0.7797 1964.50 1009.00)" x="0" y="0" style="font-family:'Liberation Sans',sans-serif;font-weight:bold;font-size:100px" fill="#053B50" stroke="#053B50" stroke-width="4.84" stroke-linejoin="miter">F</text>
<text transform="matrix(0.8200 0 0 0.8099 2019.47 1009.74)" x="0" y="0" style="font-family:'Liberation Sans',sans-serif;font-weight:bold;font-size:100px" fill="#0BB35B" stroke="#0BB35B" stroke-width="4.29" stroke-linejoin="miter">O</text>
<text transform="matrix(0.7889 0 0 0.7797 2092.28 1009.00)" x="0" y="0" style="font-family:'Liberation Sans',sans-serif;font-weight:bold;font-size:100px" fill="#053B50" stroke="#053B50" stroke-width="5.10" stroke-linejoin="miter">R</text>
<text transform="matrix(0.7857 0 0 0.7797 2153.60 1009.00)" x="0" y="0" style="font-family:'Liberation Sans',sans-serif;font-weight:bold;font-size:100px" fill="#053B50" stroke="#053B50" stroke-width="5.11" stroke-linejoin="miter">E</text>
<text transform="matrix(0.8750 0 0 0.7797 2211.62 1009.00)" x="0" y="0" style="font-family:'Liberation Sans',sans-serif;font-weight:bold;font-size:100px" fill="#053B50" stroke="#053B50" stroke-width="4.83" stroke-linejoin="miter">X</text>
<g fill="#0BB35B"><path d="M2054.8 974.9H2090.2L2088.3 980.1H2053.3z"/><path d="M2053.3 985.6H2088.7L2087 990.8H2051.8z"/></g>
<text transform="matrix(0.4709 0 0 0.4164 2272.70 995.08)" x="0" y="0" style="font-family:'Liberation Sans',sans-serif;font-weight:bold;font-size:100px" fill="#053B50" stroke="#053B50" stroke-width="3.61" stroke-linejoin="miter">.com</text>
<g fill="#131722"><path d="M10 1306.2h7.6v9.7h-3.9v-5.9H10z"/><circle cx="20.9" cy="1308.1" r="1.9"/><path d="M24.6 1306.2h4.7l-4.1 9.7h-4.6z"/></g>
<text x="33.3" y="1316" textLength="70" lengthAdjust="spacingAndGlyphs" style="font-family:'Liberation Sans',sans-serif;font-size:12.8px" fill="#131722">TradingView</text>
</svg></body></html>
